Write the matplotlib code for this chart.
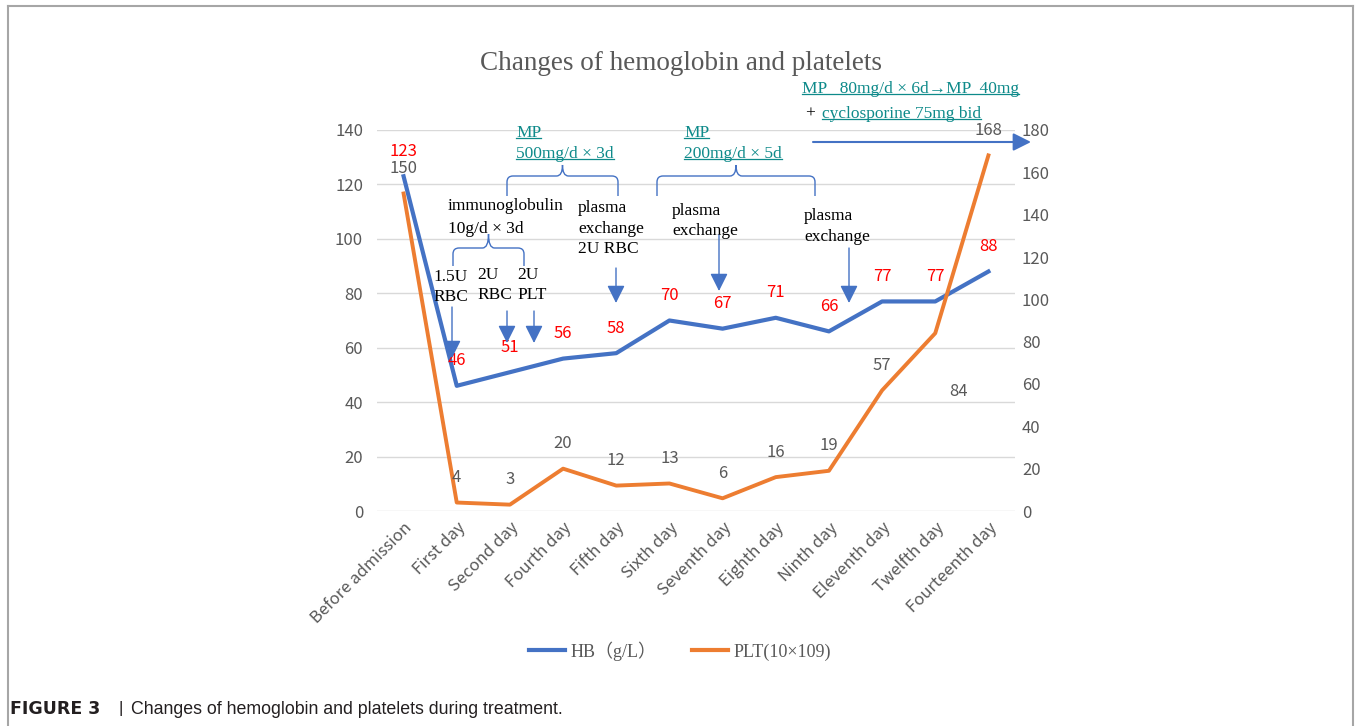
import matplotlib
matplotlib.use('Agg')
import matplotlib.pyplot as plt
from matplotlib.path import Path
from matplotlib.patches import PathPatch, FancyArrowPatch
from matplotlib.lines import Line2D

# Data
days = ['Before admission', 'First day', 'Second day', 'Fourth day', 'Fifth day', 'Sixth day',
        'Seventh day', 'Eighth day', 'Ninth day', 'Eleventh day', 'Twelfth day', 'Fourteenth day']
hb = [123, 46, 51, 56, 58, 70, 67, 71, 66, 77, 77, 88]
plt_vals = [150, 4, 3, 20, 12, 13, 6, 16, 19, 57, 84, 168]
left_ticks = [0, 20, 40, 60, 80, 100, 120, 140]
right_ticks = [0, 20, 40, 60, 80, 100, 120, 140, 160, 180]

W, H = 1356, 726
BLUE = '#4472C4'
ORANGE = '#ED7D31'
GRAY = '#595959'
TEAL = '#0E8A8A'
SERIF = ['Liberation Serif', 'DejaVu Serif']
SANS = ['Noto Sans CJK SC', 'DejaVu Sans']


def P(x, y):
    # pixel position (from top-left) -> figure fraction
    return (x / W, 1 - y / H)


fig = plt.figure(figsize=(W / 100, H / 100), dpi=100)
ax = fig.add_axes([377 / W, 1 - 511 / H, (1015 - 377) / W, (511 - 130) / H])
ax2 = ax.twinx()

x = list(range(len(days)))
ax.plot(x, hb, color=BLUE, lw=3, solid_joinstyle='round', zorder=3)
ax2.plot(x, plt_vals, color=ORANGE, lw=2.8, solid_joinstyle='round', zorder=3)

ax.set_xlim(-0.5, len(days) - 0.5)
ax.set_ylim(0, 140)
ax2.set_ylim(0, 180)
ax.set_yticks(left_ticks)
ax2.set_yticks(right_ticks)
ax.set_xticks(x)
ax.set_xticklabels(days, rotation=45, ha='right', rotation_mode='anchor',
                   fontsize=12, color=GRAY, family=SANS)
for a in (ax, ax2):
    for s in a.spines.values():
        s.set_visible(False)
    a.tick_params(length=0, labelsize=12, labelcolor=GRAY)
    for lab in a.get_yticklabels():
        lab.set_family(SANS)
ax.tick_params(axis='y', pad=10)
ax2.tick_params(axis='y', pad=5)
ax.tick_params(axis='x', pad=6)
ax.grid(axis='y', color='#D9D9D9', lw=1)
ax.set_axisbelow(True)

# data labels
for i, v in enumerate(hb):
    ax.annotate(str(v), (i, v), xytext=(0, 18), textcoords='offset points',
                ha='center', va='center', color='#FF0000', fontsize=12, family=SANS, zorder=5)
for i, v in enumerate(plt_vals):
    off = (17, -42) if v == 84 else (0, 18)
    ax2.annotate(str(v), (i, v), xytext=off, textcoords='offset points',
                 ha='center', va='center', color=GRAY, fontsize=12, family=SANS, zorder=5)

# title
fig.text(*P(681, 63), 'Changes of hemoglobin and platelets', ha='center', va='center',
         fontsize=19.5, color=GRAY, family=SERIF)

# frame
for xs, ys in [((8, 8), (6, 726)), ((8, 1353), (6, 6)), ((1353, 1353), (6, 726))]:
    fig.add_artist(Line2D([xx / W for xx in xs], [1 - yy / H for yy in ys],
                          color='#A6A6A6', lw=1.5, transform=fig.transFigure))

# treatment notes
underlined = []


def note(px, py, s, color='black', ul=False, size=12.5):
    t = fig.text(*P(px, py), s, ha='left', va='center', fontsize=size, color=color, family=SERIF)
    if ul:
        underlined.append(t)
    return t


note(802, 89, 'MP   80mg/d × 6d→MP  40mg', TEAL, True)
note(805, 114, '+', 'black')
note(822, 114, 'cyclosporine 75mg bid', TEAL, True)
note(516, 133, 'MP', TEAL, True)
note(516, 154, '500mg/d × 3d', TEAL, True)
note(684, 133, 'MP', TEAL, True)
note(684, 154, '200mg/d × 5d', TEAL, True)
note(448, 206, 'immunoglobulin')
note(448, 229, '10g/d × 3d')
note(578, 208, 'plasma')
note(578, 229, 'exchange')
note(578, 249, '2U RBC')
note(672, 211, 'plasma')
note(672, 231, 'exchange')
note(804, 216, 'plasma')
note(804, 237, 'exchange')
note(433, 277, '1.5U')
note(433, 297, 'RBC')
note(477, 275, '2U')
note(477, 295, 'RBC')
note(517, 275, '2U')
note(517, 295, 'PLT')


def brace(x0, x1, ytop, ybot, ycusp, r=6):
    xm = (x0 + x1) / 2
    pts = [(x0, ybot), (x0, ytop + r), (x0, ytop), (x0 + r, ytop), (xm - r, ytop),
           (xm, ytop), (xm, ycusp), (xm, ytop), (xm + r, ytop), (x1 - r, ytop),
           (x1, ytop), (x1, ytop + r), (x1, ybot)]
    codes = [Path.MOVETO, Path.LINETO, Path.CURVE3, Path.CURVE3, Path.LINETO,
             Path.CURVE3, Path.CURVE3, Path.CURVE3, Path.CURVE3, Path.LINETO,
             Path.CURVE3, Path.CURVE3, Path.LINETO]
    path = Path([P(*p) for p in pts], codes)
    fig.add_artist(PathPatch(path, fill=False, ec=BLUE, lw=1, transform=fig.transFigure))


brace(507, 618, 176, 196, 165)
brace(657, 815, 176, 196, 165)
brace(453, 524, 248, 266, 234)


def arrow(x0, y0, x1, y1, lw=1, hl=0.6, hw=0.3, ms=18):
    fig.add_artist(FancyArrowPatch(P(x0, y0), P(x1, y1), transform=fig.transFigure,
                                   arrowstyle=f'-|>,head_length={hl},head_width={hw}',
                                   mutation_scale=ms, color=BLUE, lw=lw,
                                   shrinkA=0, shrinkB=0, zorder=6))


arrow(452, 307, 452, 358)
arrow(507, 311, 507, 343)
arrow(534, 311, 534, 343)
arrow(616, 268, 616, 303)
arrow(719, 235, 719, 291)
arrow(849, 248, 849, 303)
arrow(813, 142, 1031, 142, lw=1.5)

# legend
handles = [Line2D([], [], color=BLUE, lw=3), Line2D([], [], color=ORANGE, lw=3)]
fig.legend(handles, ['HB（g/L）', 'PLT(10×109)'], loc='center', bbox_to_anchor=P(680, 651),
           ncol=2, frameon=False, handlelength=2.0, columnspacing=2.0, handletextpad=0.3,
           prop={'family': ['Liberation Serif', 'Noto Sans CJK SC'], 'size': 13},
           labelcolor=GRAY)

# caption
fig.text(*P(10, 709), 'FIGURE 3', ha='left', va='center', fontsize=12.5,
         fontweight='bold', family='DejaVu Sans', color='#231F20')
fig.text(*P(119, 709), '|', ha='left', va='center', fontsize=12.5, family='Liberation Sans',
         color='#231F20')
fig.text(*P(131, 709), 'Changes of hemoglobin and platelets during treatment.', ha='left',
         va='center', fontsize=12.8, family='Liberation Sans', color='#231F20')

# underline the teal notes
fig.canvas.draw()
r = fig.canvas.get_renderer()
for t in underlined:
    bb = t.get_window_extent(r)
    yy = (bb.y0 + 3) / H
    fig.add_artist(Line2D([bb.x0 / W, bb.x1 / W], [yy, yy], color=TEAL, lw=0.9,
                          transform=fig.transFigure))

fig.savefig('out.png', dpi=100)
